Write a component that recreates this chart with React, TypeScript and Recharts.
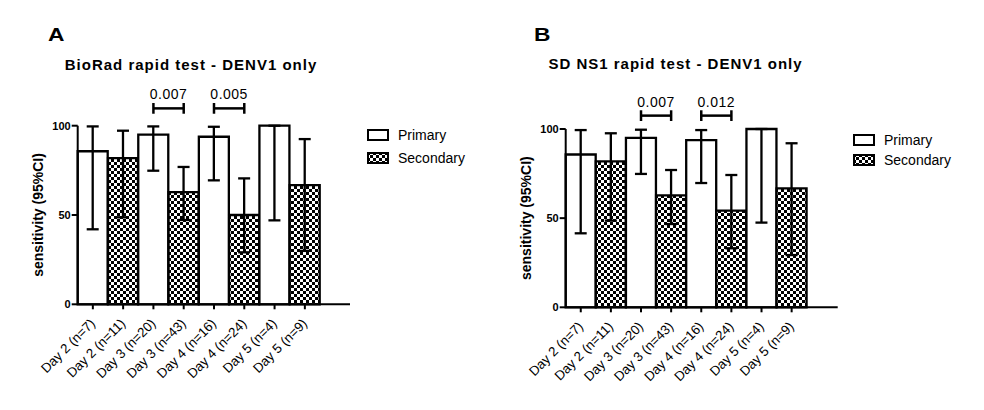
import { Bar, BarChart, Cell, ErrorBar, Legend, ReferenceLine, XAxis, YAxis } from "recharts";

const FONT = "'Liberation Sans', Arial, sans-serif";

const categories = [
	"Day 2 (n=7)",
	"Day 2 (n=11)",
	"Day 3 (n=20)",
	"Day 3 (n=43)",
	"Day 4 (n=16)",
	"Day 4 (n=24)",
	"Day 5 (n=4)",
	"Day 5 (n=9)",
];
const infection = ["Primary", "Secondary", "Primary", "Secondary", "Primary", "Secondary", "Primary", "Secondary"];
const legendLabels = ["Primary", "Secondary"];
const yTicks = [0, 50, 100];

// BioRad rapid test
const bioradSensitivity = [85.7, 81.8, 95.0, 62.8, 93.8, 50.0, 100, 66.7];
const bioradLower = [42.0, 48.7, 74.8, 47.2, 69.4, 29.1, 47.0, 29.9];
const bioradUpper = [99.6, 97.2, 99.6, 76.9, 99.4, 70.5, 100, 92.5];
const bioradPairs = [
	[2, 3],
	[4, 5],
];
const bioradP = ["0.007", "0.005"];

// SD NS1 rapid test
const sdSensitivity = [85.7, 81.8, 95.0, 62.8, 93.8, 54.2, 100, 66.7];
const sdLower = [41.5, 48.6, 74.8, 46.7, 69.7, 33.1, 47.5, 29.3];
const sdUpper = [99.4, 97.6, 99.6, 77.0, 99.4, 74.2, 100, 92.0];
const sdPairs = [
	[2, 3],
	[4, 5],
];
const sdP = ["0.007", "0.012"];

const DayTick = (props: any) => {
	const { x, y, payload } = props;
	return (
		<g transform={`translate(${x + 3},${y + 13}) rotate(-45)`}>
			<text textAnchor="end" fontSize={13.3} fontFamily={FONT} fill="#000">
				{payload.value}
			</text>
		</g>
	);
};

const Checker = ({ id }: { id: string }) => (
	<pattern id={id} width={6} height={6} patternUnits="userSpaceOnUse">
		<rect width={6} height={6} fill="#fff" />
		<rect width={3} height={3} fill="#000" />
		<rect x={3} y={3} width={3} height={3} fill="#000" />
	</pattern>
);

const PanelLegend = ({ id, gap }: { id: string; gap: number }) => (
	<div style={{ fontFamily: FONT, fontSize: 14, color: "#000" }}>
		{legendLabels.map((label, i) => (
			<div key={label} style={{ display: "flex", alignItems: "center", height: 12, marginBottom: i === 0 ? gap : 0 }}>
				<svg width={22} height={12} style={{ marginRight: 9 }}>
					<defs>
						<Checker id={`${id}-leg`} />
					</defs>
					<rect x={1} y={1} width={20} height={10} fill={i === 0 ? "#fff" : `url(#${id}-leg)`} stroke="#000" strokeWidth={2} />
				</svg>
				<span>{label}</span>
			</div>
		))}
	</div>
);

type PanelProps = {
	id: string;
	left: number;
	width: number;
	margin: { top: number; right: number; bottom: number; left: number };
	padRight: number;
	sensitivity: number[];
	lower: number[];
	upper: number[];
	pairs: number[][];
	pLabels: string[];
	bracketY: number;
	legendPos: { left: number; top: number };
	legendGap: number;
};

const Panel = (p: PanelProps) => {
	const rows = categories.map((name, i) => ({
		name,
		type: infection[i],
		value: p.sensitivity[i],
		ci: [p.sensitivity[i] - p.lower[i], p.upper[i] - p.sensitivity[i]],
	}));

	return (
		<div style={{ position: "absolute", left: p.left, top: 0 }}>
			<BarChart width={p.width} height={410} data={rows} margin={p.margin} barCategoryGap={0} barGap={0}>
				<defs>
					<Checker id={`${p.id}-check`} />
				</defs>
				<XAxis
					dataKey="name"
					interval={0}
					height={90}
					padding={{ left: 0, right: p.padRight }}
					axisLine={{ stroke: "#000", strokeWidth: 2 }}
					tickLine={{ stroke: "#000", strokeWidth: 2 }}
					tickSize={5}
					tick={<DayTick />}
				/>
				<YAxis
					domain={[0, 100]}
					ticks={yTicks}
					width={40}
					tickSize={6}
					tickMargin={1}
					axisLine={{ stroke: "#000", strokeWidth: 2 }}
					tickLine={{ stroke: "#000", strokeWidth: 2 }}
					tick={{ fill: "#000", fontSize: 11, fontWeight: "bold", fontFamily: FONT }}
					label={{
						value: "sensitivity (95%CI)",
						angle: -90,
						position: "insideLeft",
						offset: 0,
						style: { textAnchor: "middle", fontSize: 14, fontWeight: "bold", fontFamily: FONT, fill: "#000" },
					}}
				/>
				<Bar dataKey="value" stroke="#000" strokeWidth={2.3} isAnimationActive={false}>
					{rows.map((r) => (
						<Cell key={r.name} fill={r.type === "Primary" ? "#fff" : `url(#${p.id}-check)`} />
					))}
					<ErrorBar dataKey="ci" width={6} stroke="#000" strokeWidth={2.3} direction="y" />
				</Bar>
				{p.pairs.map(([a, b], i) => (
					<ReferenceLine
						key={`h${i}`}
						segment={[
							{ x: categories[a], y: p.bracketY },
							{ x: categories[b], y: p.bracketY },
						]}
						ifOverflow="visible"
						stroke="#000"
						strokeWidth={2.5}
						label={{
							value: p.pLabels[i],
							position: "top",
							offset: 9,
							style: { fontSize: 14, fontFamily: FONT, fill: "#000", letterSpacing: 0.5 },
						}}
					/>
				))}
				{p.pairs.flatMap(([a, b], i) =>
					[a, b].map((c) => (
						<ReferenceLine
							key={`v${i}-${c}`}
							segment={[
								{ x: categories[c], y: p.bracketY - 3 },
								{ x: categories[c], y: p.bracketY + 3 },
							]}
							ifOverflow="visible"
							stroke="#000"
							strokeWidth={2.5}
						/>
					)),
				)}
				<Legend
					layout="vertical"
					align="center"
					verticalAlign="middle"
					wrapperStyle={{ left: p.legendPos.left, top: p.legendPos.top, width: "auto" }}
					content={() => <PanelLegend id={p.id} gap={p.legendGap} />}
				/>
			</BarChart>
		</div>
	);
};

export default function App() {
	return (
		<div style={{ position: "absolute", left: 0, top: 0, width: 984, height: 410, background: "#fff" }}>
			<Panel
				id="a"
				left={0}
				width={490}
				margin={{ top: 125.7, right: 140, bottom: 15.7, left: 37.7 }}
				padRight={30}
				sensitivity={bioradSensitivity}
				lower={bioradLower}
				upper={bioradUpper}
				pairs={bioradPairs}
				pLabels={bioradP}
				bracketY={109.7}
				legendPos={{ left: 367, top: 129 }}
				legendGap={11}
			/>
			<Panel
				id="b"
				left={490}
				width={494}
				margin={{ top: 129, right: 146.3, bottom: 12.7, left: 35.7 }}
				padRight={31}
				sensitivity={sdSensitivity}
				lower={sdLower}
				upper={sdUpper}
				pairs={sdPairs}
				pLabels={sdP}
				bracketY={107.5}
				legendPos={{ left: 363, top: 134 }}
				legendGap={8}
			/>
			<svg width={984} height={410} style={{ position: "absolute", left: 0, top: 0, pointerEvents: "none" }}>
				<text transform="translate(48,41) scale(1.2,1)" fontSize={19} fontWeight="bold" fontFamily={FONT}>
					A
				</text>
				<text transform="translate(534,41) scale(1.2,1)" fontSize={19} fontWeight="bold" fontFamily={FONT}>
					B
				</text>
				<text x={191} y={69.5} textAnchor="middle" fontSize={15} fontWeight="bold" fontFamily={FONT} letterSpacing={1}>
					BioRad rapid test - DENV1 only
				</text>
				<text x={675.5} y={69} textAnchor="middle" fontSize={15} fontWeight="bold" fontFamily={FONT} letterSpacing={1}>
					SD NS1 rapid test - DENV1 only
				</text>
			</svg>
		</div>
	);
}
